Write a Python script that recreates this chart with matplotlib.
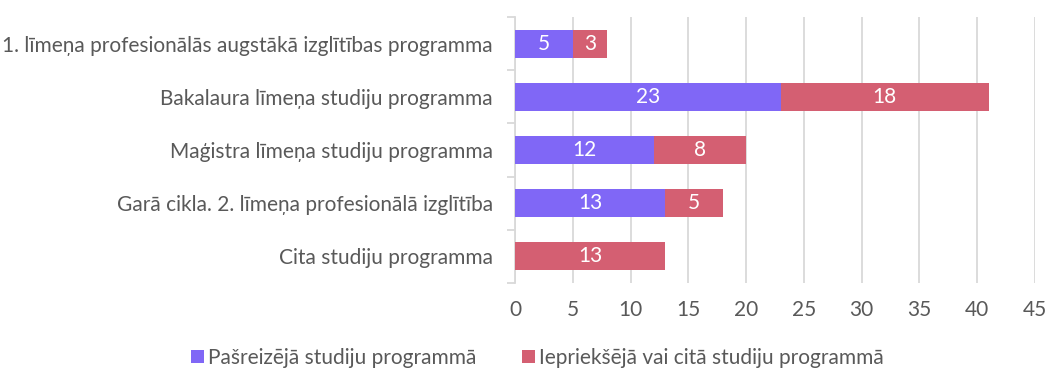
import matplotlib.pyplot as plt
import numpy as np

plt.rcParams['font.family'] = ['Lato', 'DejaVu Sans']

categories = [
    '1. līmeņa profesionālās augstākā izglītības programma',
    'Bakalaura līmeņa studiju programma',
    'Maģistra līmeņa studiju programma',
    'Garā cikla. 2. līmeņa profesionālā izglītība',
    'Cita studiju programma',
]
current_prog = [5, 23, 12, 13, 0]
previous_prog = [3, 18, 8, 5, 13]
series_names = ['Pašreizējā studiju programmā', 'Iepriekšējā vai citā studiju programmā']
colors = ['#8067f6', '#d45f72']

fs = 15

fig = plt.figure(figsize=(10.48, 3.7), dpi=100)
ax = fig.add_axes([515 / 1048, 1 - 283 / 370, 520 / 1048, 266 / 370])

y = np.arange(len(categories))
h = 0.53
b1 = ax.barh(y, current_prog, height=h, color=colors[0], label=series_names[0], zorder=3)
b2 = ax.barh(y, previous_prog, left=current_prog, height=h, color=colors[1],
             label=series_names[1], zorder=3)

# value labels inside each segment
for bars, vals in ((b1, current_prog), (b2, previous_prog)):
    for bar, v in zip(bars, vals):
        if v == 0:
            continue
        ax.text(bar.get_x() + bar.get_width() / 2, bar.get_y() + bar.get_height() / 2,
                str(v), ha='center', va='center', color='white', fontsize=fs, zorder=4)

ax.set_xlim(0, 45)
ax.set_ylim(len(categories) - 0.5, -0.5)
ax.set_xticks(range(0, 46, 5))
ax.set_yticks(y)
ax.set_yticklabels(categories)
ax.set_yticks(np.arange(-0.5, len(categories), 1), minor=True)

ax.grid(axis='x', color='#d9d9d9', linewidth=1.3, zorder=0)
for s in ['top', 'right', 'bottom']:
    ax.spines[s].set_visible(False)
ax.spines['left'].set_color('#d9d9d9')
ax.spines['left'].set_linewidth(1.3)

ax.tick_params(axis='y', which='major', length=0, pad=16, labelsize=fs, labelcolor='#595959')
ax.tick_params(axis='y', which='minor', length=6, width=1.3, color='#d9d9d9')
ax.tick_params(axis='x', length=0, pad=12, labelsize=fs, labelcolor='#595959')

fig.legend(handles=[b1, b2], loc='center', bbox_to_anchor=(0.513, 1 - 358 / 370), ncol=2,
           frameon=False, fontsize=fs, labelcolor='#595959', handlelength=0.6,
           handleheight=0.6, handletextpad=0.2, columnspacing=2.2)

fig.savefig('out.png', dpi=100)
